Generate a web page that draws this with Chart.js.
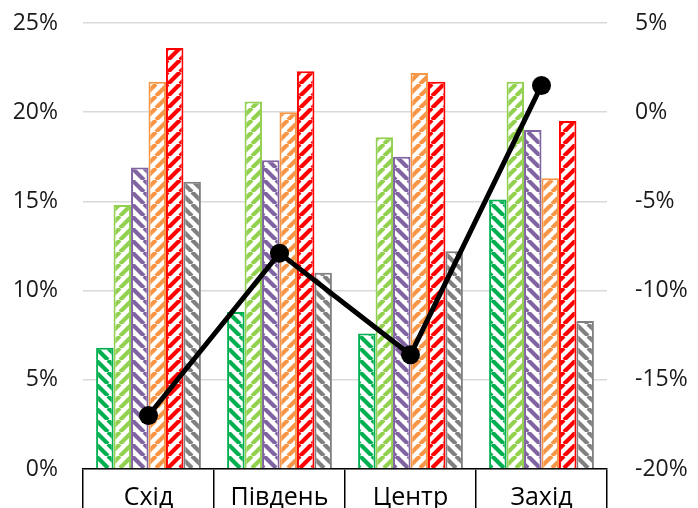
<!DOCTYPE html>
<html>
<head>
<meta charset="utf-8">
<script src="https://cdn.jsdelivr.net/npm/chart.js@4/dist/chart.umd.min.js"></script>
<style>
  html, body { margin: 0; padding: 0; background: #fff; }
  #wrap { width: 698px; height: 508px; }
</style>
</head>
<body>
<div id="wrap"><canvas id="chart"></canvas></div>
<script>
(function () {
  const regions = ['Схід', 'Південь', 'Центр', 'Захід'];
  const darkGreenVals = [6.8, 8.8, 7.6, 15.1];
  const lightGreenVals = [14.8, 20.6, 18.6, 21.7];
  const purpleVals = [16.9, 17.3, 17.5, 19.0];
  const orangeVals = [21.7, 20.0, 22.2, 16.3];
  const redVals = [23.6, 22.3, 21.7, 19.5];
  const grayVals = [16.1, 11.0, 12.2, 8.3];
  const lineVals = [-17.0, -7.9, -13.6, 1.5];

  const leftTicks = [0, 5, 10, 15, 20, 25];
  const rightTicks = [-20, -15, -10, -5, 0, 5];

  const colors = {
    darkGreen: '#00b050',
    lightGreen: '#92d050',
    purple: '#8064a2',
    orange: '#f79646',
    red: '#ff0000',
    gray: '#808080',
  };

  // diagonal hatch tile; 'up' = "/", 'down' = "\"
  function hatch(color, dir) {
    const s = 12;
    const c = document.createElement('canvas');
    c.width = s;
    c.height = s;
    const g = c.getContext('2d');
    g.fillStyle = '#fff';
    g.fillRect(0, 0, s, s);
    g.strokeStyle = color;
    g.lineWidth = 4.2;
    g.beginPath();
    for (let k = -1; k <= 1; k += 1) {
      if (dir === 'up') {
        g.moveTo(k * s, s);
        g.lineTo(k * s + s, 0);
      } else {
        g.moveTo(k * s, 0);
        g.lineTo(k * s + s, s);
      }
    }
    g.stroke();
    return g.createPattern(c, 'repeat');
  }

  function barSet(label, data, color, dir) {
    return {
      type: 'bar',
      label: label,
      data: data,
      backgroundColor: hatch(color, dir),
      borderColor: color,
      borderWidth: 2,
      yAxisID: 'y',
      order: 1,
      categoryPercentage: 0.8,
      barPercentage: 1,
    };
  }

  const pct = (v) => `${v}%`;

  Chart.defaults.font.family = "'Open Sans', sans-serif";
  Chart.defaults.font.size = 23;
  Chart.defaults.color = '#1a1a1a';

  new Chart(document.getElementById('chart'), {
    data: {
      labels: regions,
      datasets: [
        {
          type: 'line',
          label: 'line',
          data: lineVals,
          borderColor: '#000',
          backgroundColor: '#000',
          borderWidth: 5,
          pointRadius: 9.5,
          pointBackgroundColor: '#000',
          pointBorderWidth: 0,
          tension: 0,
          yAxisID: 'y1',
          order: 0,
        },
        barSet('s1', darkGreenVals, colors.darkGreen, 'down'),
        barSet('s2', lightGreenVals, colors.lightGreen, 'up'),
        barSet('s3', purpleVals, colors.purple, 'down'),
        barSet('s4', orangeVals, colors.orange, 'up'),
        barSet('s5', redVals, colors.red, 'up'),
        barSet('s6', grayVals, colors.gray, 'down'),
      ],
    },
    options: {
      responsive: true,
      maintainAspectRatio: false,
      animation: false,
      layout: { autoPadding: false, padding: { top: 23, left: 0, right: 0, bottom: 0 } },
      plugins: {
        legend: { display: false },
        tooltip: { enabled: false },
      },
      scales: {
        x: {
          offset: true,
          grid: {
            offset: true,
            drawOnChartArea: false,
            drawTicks: true,
            tickLength: 40,
            color: '#000',
            lineWidth: 1.5,
          },
          border: { display: true, color: '#000', width: 1.5 },
          ticks: { padding: -26, color: '#000', font: { size: 25 } },
          afterFit: (s) => { s.height = 39; },
        },
        // tick padding would also pad the chart top, so the gap comes from invisible tick marks
        y: {
          position: 'left',
          min: 0,
          max: 25,
          afterBuildTicks: (s) => { s.ticks = leftTicks.map((v) => ({ value: v })); },
          ticks: { callback: pct, padding: 0 },
          grid: { color: '#d9d9d9', lineWidth: 1.5, drawTicks: true, tickLength: 25, tickColor: 'rgba(0,0,0,0)' },
          border: { display: false },
          afterFit: (s) => { s.width = 83; },
        },
        y1: {
          position: 'right',
          min: -20,
          max: 5,
          afterBuildTicks: (s) => { s.ticks = rightTicks.map((v) => ({ value: v })); },
          ticks: { callback: pct, padding: 0 },
          grid: { drawOnChartArea: false, drawTicks: true, tickLength: 28, tickColor: 'rgba(0,0,0,0)' },
          border: { display: false },
          afterFit: (s) => { s.width = 91; },
        },
      },
    },
  });
})();
</script>
</body>
</html>
